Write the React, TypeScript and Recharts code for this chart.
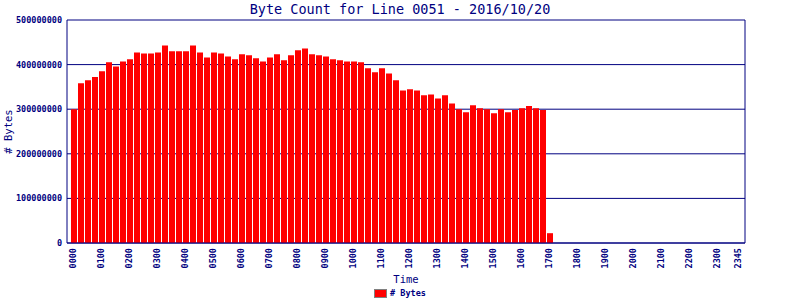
import { Bar, BarChart, CartesianGrid, Legend, XAxis, YAxis } from "recharts";

const NAVY = "#000080";
const MONO = "'DejaVu Sans Mono', 'Liberation Mono', monospace";

// 15-minute slots over the day
const times = [
  "0000", "0015", "0030", "0045", "0100", "0115", "0130", "0145", "0200", "0215", "0230", "0245",
  "0300", "0315", "0330", "0345", "0400", "0415", "0430", "0445", "0500", "0515", "0530", "0545",
  "0600", "0615", "0630", "0645", "0700", "0715", "0730", "0745", "0800", "0815", "0830", "0845",
  "0900", "0915", "0930", "0945", "1000", "1015", "1030", "1045", "1100", "1115", "1130", "1145",
  "1200", "1215", "1230", "1245", "1300", "1315", "1330", "1345", "1400", "1415", "1430", "1445",
  "1500", "1515", "1530", "1545", "1600", "1615", "1630", "1645", "1700", "1715", "1730", "1745",
  "1800", "1815", "1830", "1845", "1900", "1915", "1930", "1945", "2000", "2015", "2030", "2045",
  "2100", "2115", "2130", "2145", "2200", "2215", "2230", "2245", "2300", "2315", "2330", "2345",
];

// bytes per slot (no data after 1700)
const bytes = [
  300_000_000, 358_000_000, 365_000_000, 372_000_000, 385_000_000, 405_000_000, 396_000_000, 407_000_000,
  412_000_000, 427_000_000, 425_000_000, 425_000_000, 427_000_000, 443_000_000, 430_000_000, 430_000_000,
  430_000_000, 443_000_000, 427_000_000, 416_000_000, 427_000_000, 425_000_000, 418_000_000, 412_000_000,
  423_000_000, 421_000_000, 414_000_000, 407_000_000, 416_000_000, 423_000_000, 410_000_000, 421_000_000,
  432_000_000, 436_000_000, 423_000_000, 421_000_000, 418_000_000, 412_000_000, 410_000_000, 407_000_000,
  407_000_000, 405_000_000, 392_000_000, 383_000_000, 392_000_000, 380_000_000, 365_000_000, 342_000_000,
  345_000_000, 342_000_000, 331_000_000, 333_000_000, 324_000_000, 331_000_000, 313_000_000, 300_000_000,
  293_000_000, 309_000_000, 302_000_000, 300_000_000, 291_000_000, 300_000_000, 293_000_000, 298_000_000,
  302_000_000, 307_000_000, 302_000_000, 298_000_000, 22_000_000,
];

const yTicks = [0, 100000000, 200000000, 300000000, 400000000, 500000000];

// hourly labels plus the last slot
const shownLabels = [
  "0000", "0100", "0200", "0300", "0400", "0500", "0600", "0700", "0800", "0900", "1000", "1100",
  "1200", "1300", "1400", "1500", "1600", "1700", "1800", "1900", "2000", "2100", "2200", "2300", "2345",
];

const data = times.map((t, i) => ({ time: t, bytes: i < bytes.length ? bytes[i] : null }));

function TimeTick({ x, y, payload }: any) {
  if (!shownLabels.includes(payload.value)) return null;
  return (
    <g transform={`translate(${x},${y})`}>
      <text
        transform="rotate(-90)"
        textAnchor="end"
        dy="0.35em"
        fill={NAVY}
        fontFamily={MONO}
        fontSize={8.5}
        fontWeight="bold"
      >
        {payload.value}
      </text>
    </g>
  );
}

function LegendBox() {
  return (
    <div
      style={{
        height: 14,
        display: "flex",
        alignItems: "center",
        justifyContent: "center",
        fontFamily: MONO,
        fontSize: 8.5,
        fontWeight: "bold",
        color: NAVY,
      }}
    >
      <span
        style={{
          display: "inline-block",
          width: 11,
          height: 7,
          background: "#ff0000",
          border: "1px solid #808080",
          marginRight: 3,
        }}
      />
      # Bytes
    </div>
  );
}

export default function App() {
  return (
    <div style={{ position: "absolute", left: 0, top: 0, width: 800, height: 300, background: "#fff" }}>
      <div
        style={{
          position: "absolute",
          left: 0,
          top: 0,
          width: 800,
          textAlign: "center",
          fontFamily: MONO,
          fontSize: 13.5,
          color: NAVY,
          lineHeight: "18px",
        }}
      >
        Byte Count for Line 0051 - 2016/10/20
      </div>
      <BarChart width={800} height={300} data={data} margin={{ top: 20, right: 54, left: 0, bottom: 0 }}>
        <CartesianGrid yAxisId="left" horizontal vertical={false} stroke={NAVY} strokeOpacity={1} />
        <XAxis
          dataKey="time"
          interval={0}
          height={43}
          tick={<TimeTick />}
          tickLine={false}
          tickSize={0}
          tickMargin={5}
          axisLine={{ stroke: NAVY }}
          padding={{ left: 3, right: 3 }}
          label={{
            value: "Time",
            position: "insideBottom",
            offset: 3,
            fill: NAVY,
            fontFamily: MONO,
            fontSize: 10.5,
          }}
        />
        <YAxis
          yAxisId="left"
          width={67}
          domain={[0, 500000000]}
          ticks={yTicks}
          interval={0}
          tickLine={false}
          tickSize={3}
          tickMargin={2}
          axisLine={{ stroke: NAVY }}
          tick={{ fill: NAVY, fontFamily: MONO, fontSize: 8.5, fontWeight: "bold" }}
          label={{
            value: "# Bytes",
            angle: -90,
            position: "insideLeft",
            offset: 8,
            fill: NAVY,
            fontFamily: MONO,
            fontSize: 10.5,
            style: { textAnchor: "middle" },
          }}
        />
        <YAxis
          yAxisId="right"
          orientation="right"
          width={1}
          domain={[0, 500000000]}
          ticks={yTicks}
          tick={false}
          tickLine={false}
          axisLine={{ stroke: NAVY }}
        />
        <Legend
          verticalAlign="bottom"
          content={<LegendBox />}
          wrapperStyle={{ left: 0, width: 800, bottom: 0 }}
        />
        <Bar
          yAxisId="left"
          dataKey="bytes"
          name="# Bytes"
          fill="#ff0000"
          barSize={6}
          isAnimationActive={false}
        />
      </BarChart>
    </div>
  );
}
